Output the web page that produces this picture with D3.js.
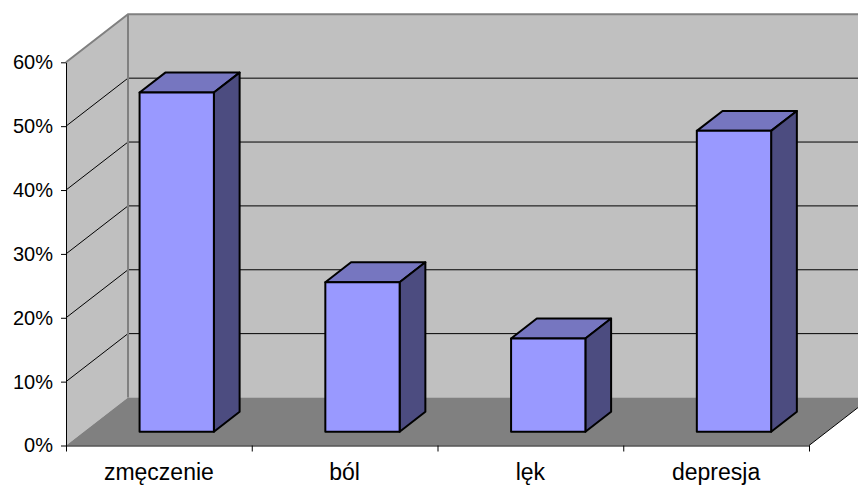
<!DOCTYPE html>
<html>
<head>
<meta charset="utf-8">
<script src="https://cdn.jsdelivr.net/npm/d3@7"></script>
<style>
  body { margin: 0; background: #fff; }
  text { font-family: Arial, "Liberation Sans", sans-serif; fill: #000; }
</style>
</head>
<body>
<div id="chart-area"></div>
<script>
// values
const categories = ["zmęczenie", "ból", "lęk", "depresja"]
const values = [0.531, 0.234, 0.146, 0.471]
const yTicks = [0, 0.1, 0.2, 0.3, 0.4, 0.5, 0.6]

const W = 858, H = 485
const FRONT = { LEFT: 66, RIGHT: 809, TOP: 62.3, BOTTOM: 445.5 }
const DEPTH = { X: 62, Y: -48 }   // oblique offset front plane -> back wall
const BAR_Z0 = 0.288, BAR_Z1 = 0.703 // bar front / back as fraction of depth
const BAR_W = 0.4                   // fraction of a band

const svg = d3.select("#chart-area").append("svg")
  .attr("width", W)
  .attr("height", H)

const x = d3.scaleBand()
  .domain(categories)
  .range([FRONT.LEFT, FRONT.RIGHT])

const xEdge = d3.scaleLinear()
  .domain([0, categories.length])
  .range([FRONT.LEFT, FRONT.RIGHT])

const y = d3.scaleLinear()
  .domain([0, 0.6])
  .range([FRONT.BOTTOM, FRONT.TOP])

const pt = (px, py, z) => [px + DEPTH.X * z, py + DEPTH.Y * z]
const poly = pts => pts.map(p => p.join(",")).join(" ")

const y0 = y(0), yTop = y(0.6)
const xL = FRONT.LEFT, xR = FRONT.RIGHT

// back wall
svg.append("polygon")
  .attr("points", poly([pt(xL, yTop, 1), pt(xR, yTop, 1), pt(xR, y0, 1), pt(xL, y0, 1)]))
  .attr("fill", "#c0c0c0")

// side wall
svg.append("polygon")
  .attr("points", poly([pt(xL, yTop, 0), pt(xL, yTop, 1), pt(xL, y0, 1), pt(xL, y0, 0)]))
  .attr("fill", "#c0c0c0")

// floor
svg.append("polygon")
  .attr("points", poly([pt(xL, y0, 0), pt(xL, y0, 1), pt(xR, y0, 1), pt(xR, y0, 0)]))
  .attr("fill", "#808080")

// gridlines (side wall diagonal + back wall horizontal)
const grid = yTicks.filter(d => d > 0 && d < 0.6)
grid.forEach(d => {
  const a = pt(xL, y(d), 0), b = pt(xL, y(d), 1), c = pt(xR, y(d), 1)
  svg.append("polyline")
    .attr("points", poly([a, b, c]))
    .attr("fill", "none")
    .attr("stroke", "#000")
    .attr("stroke-width", 1)
})

// wall edges
svg.append("polyline")
  .attr("points", poly([pt(xL, yTop, 0), pt(xL, yTop, 1), pt(xR, yTop, 1)]))
  .attr("fill", "none")
  .attr("stroke", "#808080")
  .attr("stroke-width", 2)

svg.append("line")
  .attr("x1", pt(xL, yTop, 1)[0]).attr("y1", pt(xL, yTop, 1)[1])
  .attr("x2", pt(xL, y0, 1)[0]).attr("y2", pt(xL, y0, 1)[1])
  .attr("stroke", "#808080")
  .attr("stroke-width", 2)

svg.append("line")
  .attr("x1", pt(xR, y0, 0)[0]).attr("y1", pt(xR, y0, 0)[1])
  .attr("x2", pt(xR, y0, 1)[0]).attr("y2", pt(xR, y0, 1)[1])
  .attr("stroke", "#000")
  .attr("stroke-width", 1)

// bars
const bars = svg.selectAll("g.bar")
  .data(categories.map((c, i) => ({ cat: c, val: values[i] })))
  .enter().append("g")
  .attr("class", "bar")

const bx0 = d => x(d.cat) + x.bandwidth() * (1 - BAR_W) / 2
const bx1 = d => bx0(d) + x.bandwidth() * BAR_W

bars.append("polygon") // top
  .attr("points", d => poly([
    pt(bx0(d), y(d.val), BAR_Z0), pt(bx0(d), y(d.val), BAR_Z1),
    pt(bx1(d), y(d.val), BAR_Z1), pt(bx1(d), y(d.val), BAR_Z0)]))
  .attr("fill", "#7676c0")
  .attr("stroke", "#000").attr("stroke-width", 2).attr("stroke-linejoin", "round")

bars.append("polygon") // side
  .attr("points", d => poly([
    pt(bx1(d), y(d.val), BAR_Z0), pt(bx1(d), y(d.val), BAR_Z1),
    pt(bx1(d), y(0), BAR_Z1), pt(bx1(d), y(0), BAR_Z0)]))
  .attr("fill", "#4c4c80")
  .attr("stroke", "#000").attr("stroke-width", 2).attr("stroke-linejoin", "round")

bars.append("polygon") // front
  .attr("points", d => poly([
    pt(bx0(d), y(d.val), BAR_Z0), pt(bx1(d), y(d.val), BAR_Z0),
    pt(bx1(d), y(0), BAR_Z0), pt(bx0(d), y(0), BAR_Z0)]))
  .attr("fill", "#9999ff")
  .attr("stroke", "#000").attr("stroke-width", 2).attr("stroke-linejoin", "round")

// y axis
const yAxis = svg.append("g")
  .attr("transform", `translate(${xL},0)`)
  .call(d3.axisLeft(y)
    .tickValues(yTicks)
    .tickSize(5)
    .tickSizeOuter(0)
    .tickPadding(8)
    .tickFormat(d3.format(".0%")))
yAxis.selectAll("path, line").attr("stroke", "#000")
yAxis.selectAll("text").attr("font-size", "20px").attr("font-family", "Arial, 'Liberation Sans', sans-serif")

// x axis
const xAxis = svg.append("g")
  .attr("transform", `translate(0,${y0})`)
  .call(d3.axisBottom(xEdge)
    .tickValues(d3.range(categories.length + 1))
    .tickSize(6)
    .tickSizeOuter(0)
    .tickFormat(""))
xAxis.selectAll("path, line").attr("stroke", "#000")

svg.selectAll("text.cat")
  .data(categories)
  .enter().append("text")
  .attr("class", "cat")
  .attr("x", d => x(d) + x.bandwidth() / 2)
  .attr("y", 480)
  .attr("text-anchor", "middle")
  .attr("font-size", "23px")
  .text(d => d)
</script>
</body>
</html>
